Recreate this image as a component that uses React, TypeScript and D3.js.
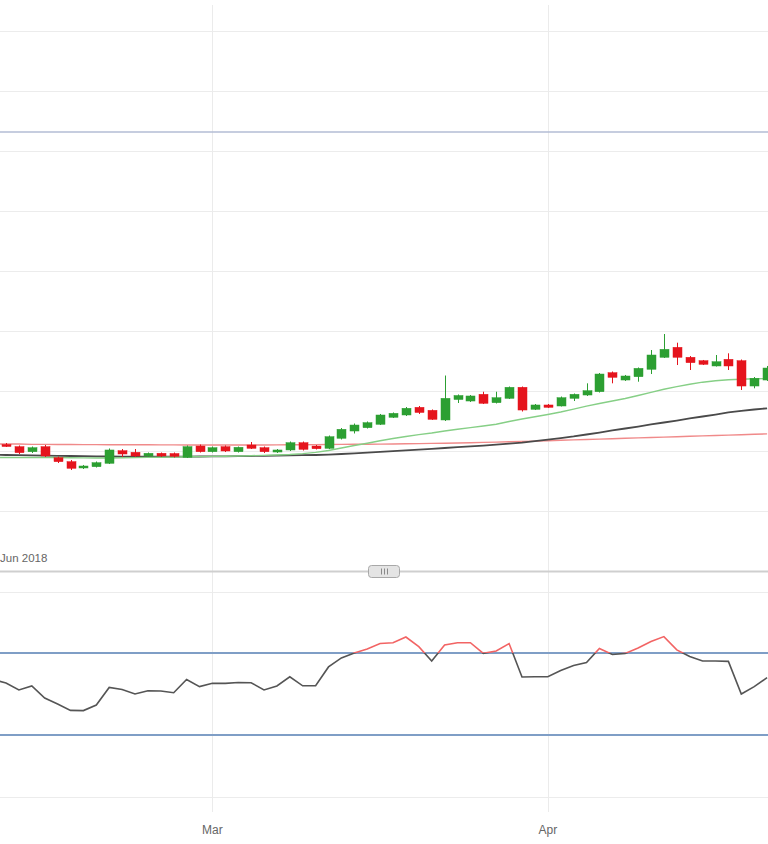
import React from 'react';
import * as d3 from 'd3';

const dates: string[] = [
  '2018-02-09',
  '2018-02-11', '2018-02-12', '2018-02-13', '2018-02-14', '2018-02-15', '2018-02-16',
  '2018-02-18', '2018-02-19', '2018-02-20', '2018-02-21', '2018-02-22', '2018-02-23',
  '2018-02-25', '2018-02-26', '2018-02-27', '2018-02-28',
  '2018-03-01', '2018-03-02',
  '2018-03-04', '2018-03-05', '2018-03-06', '2018-03-07', '2018-03-08', '2018-03-09',
  '2018-03-11', '2018-03-12', '2018-03-13', '2018-03-14', '2018-03-15', '2018-03-16',
  '2018-03-18', '2018-03-19', '2018-03-20', '2018-03-21', '2018-03-22', '2018-03-23',
  '2018-03-25', '2018-03-26', '2018-03-27', '2018-03-28', '2018-03-29', '2018-03-30',
  '2018-04-01', '2018-04-02', '2018-04-03', '2018-04-04', '2018-04-05', '2018-04-06',
  '2018-04-08', '2018-04-09', '2018-04-10', '2018-04-11', '2018-04-12', '2018-04-13',
  '2018-04-15', '2018-04-16', '2018-04-17', '2018-04-18', '2018-04-19', '2018-04-20',
];

const opens: number[] = [
  1.21080,
  1.21108, 1.21072, 1.20988, 1.21072, 1.20888, 1.20822, 1.20717, 1.20738, 1.20795, 1.21005,
  1.20978, 1.20917, 1.20962, 1.20958, 1.20895, 1.21083, 1.20988, 1.21072, 1.20988, 1.21100,
  1.21055, 1.20983, 1.21017, 1.21138, 1.21083, 1.21045, 1.21212, 1.21333, 1.21388, 1.21445,
  1.21562, 1.21600, 1.21728, 1.21678, 1.21517, 1.21858, 1.21833, 1.21945, 1.21805, 1.21878,
  1.22062, 1.21695, 1.21767, 1.21750, 1.21878, 1.21933, 1.21988, 1.22305, 1.22183, 1.22238,
  1.22362, 1.22562, 1.22728, 1.22562, 1.22505, 1.22417, 1.22528, 1.22505, 1.22083, 1.22183,
];

const highs: number[] = [
  1.21140,
  1.21133, 1.21092, 1.21075, 1.21100, 1.20908, 1.20850, 1.20767, 1.20825, 1.21042, 1.21033,
  1.21033, 1.20975, 1.20975, 1.20975, 1.21092, 1.21108, 1.21075, 1.21092, 1.21075, 1.21150,
  1.21075, 1.21033, 1.21158, 1.21158, 1.21100, 1.21258, 1.21383, 1.21458, 1.21492, 1.21617,
  1.21642, 1.21733, 1.21750, 1.21692, 1.22258, 1.21942, 1.21933, 1.21988, 1.21988, 1.22075,
  1.22075, 1.21783, 1.21783, 1.21908, 1.21958, 1.22128, 1.22300, 1.22325, 1.22267, 1.22392,
  1.22683, 1.22950, 1.22805, 1.22583, 1.22517, 1.22600, 1.22628, 1.22525, 1.22233, 1.22417,
];

const lows: number[] = [
  1.21060,
  1.21067, 1.20950, 1.20967, 1.20900, 1.20800, 1.20683, 1.20700, 1.20725, 1.20783, 1.20900,
  1.20900, 1.20900, 1.20900, 1.20892, 1.20883, 1.20975, 1.20975, 1.20983, 1.20975, 1.21033,
  1.20967, 1.20967, 1.21000, 1.21008, 1.21025, 1.21033, 1.21192, 1.21292, 1.21375, 1.21433,
  1.21550, 1.21583, 1.21617, 1.21517, 1.21500, 1.21800, 1.21817, 1.21783, 1.21792, 1.21867,
  1.21658, 1.21683, 1.21717, 1.21742, 1.21833, 1.21917, 1.21975, 1.22128, 1.22167, 1.22155,
  1.22283, 1.22550, 1.22433, 1.22350, 1.22433, 1.22408, 1.22350, 1.22017, 1.22045, 1.22167,
];

const closes: number[] = [
  1.21120,
  1.21075, 1.20972, 1.21055, 1.20917, 1.20822, 1.20712, 1.20750, 1.20805, 1.21017, 1.20950,
  1.20917, 1.20962, 1.20917, 1.20912, 1.21072, 1.20988, 1.21055, 1.21000, 1.21062, 1.21045,
  1.20988, 1.21017, 1.21138, 1.21028, 1.21038, 1.21238, 1.21362, 1.21433, 1.21472, 1.21600,
  1.21628, 1.21712, 1.21642, 1.21528, 1.21878, 1.21925, 1.21917, 1.21795, 1.21888, 1.22062,
  1.21683, 1.21767, 1.21728, 1.21888, 1.21945, 1.22005, 1.22283, 1.22228, 1.22250, 1.22378,
  1.22600, 1.22695, 1.22562, 1.22472, 1.22445, 1.22488, 1.22417, 1.22083, 1.22212, 1.22383,
];

const maFast: number[] = [
  1.20892,
  1.20892, 1.20892, 1.20892, 1.20892, 1.20892, 1.20888, 1.20885, 1.20883, 1.20883, 1.20887,
  1.20890, 1.20893, 1.20897, 1.20900, 1.20903, 1.20907, 1.20910, 1.20913, 1.20917, 1.20922,
  1.20927, 1.20933, 1.20942, 1.20957, 1.20977, 1.21008, 1.21050, 1.21092, 1.21130, 1.21170,
  1.21208, 1.21242, 1.21272, 1.21300, 1.21333, 1.21363, 1.21390, 1.21417, 1.21445, 1.21492,
  1.21533, 1.21570, 1.21608, 1.21650, 1.21697, 1.21747, 1.21792, 1.21833, 1.21875, 1.21925,
  1.21978, 1.22030, 1.22073, 1.22113, 1.22147, 1.22170, 1.22187, 1.22197, 1.22203, 1.22208,
];

const maMid: number[] = [
  1.20937,
  1.20933, 1.20930, 1.20927, 1.20923, 1.20920, 1.20917, 1.20913, 1.20910, 1.20908, 1.20907,
  1.20905, 1.20905, 1.20905, 1.20905, 1.20907, 1.20908, 1.20910, 1.20912, 1.20913, 1.20917,
  1.20920, 1.20923, 1.20927, 1.20930, 1.20933, 1.20940, 1.20950, 1.20962, 1.20973, 1.20985,
  1.20997, 1.21010, 1.21023, 1.21037, 1.21050, 1.21063, 1.21077, 1.21090, 1.21107, 1.21123,
  1.21140, 1.21165, 1.21190, 1.21215, 1.21242, 1.21275, 1.21308, 1.21342, 1.21375, 1.21408,
  1.21442, 1.21475, 1.21508, 1.21542, 1.21575, 1.21608, 1.21642, 1.21670, 1.21692, 1.21712,
];

const maSlow: number[] = [
  1.21117,
  1.21117, 1.21117, 1.21110, 1.21110, 1.21108, 1.21108, 1.21107, 1.21107, 1.21105, 1.21105,
  1.21103, 1.21103, 1.21102, 1.21102, 1.21100, 1.21100, 1.21100, 1.21100, 1.21100, 1.21100,
  1.21100, 1.21102, 1.21103, 1.21105, 1.21107, 1.21108, 1.21110, 1.21112, 1.21113, 1.21115,
  1.21117, 1.21120, 1.21123, 1.21127, 1.21130, 1.21133, 1.21138, 1.21143, 1.21148, 1.21153,
  1.21158, 1.21165, 1.21172, 1.21178, 1.21185, 1.21192, 1.21198, 1.21205, 1.21212, 1.21218,
  1.21225, 1.21232, 1.21238, 1.21245, 1.21252, 1.21258, 1.21265, 1.21272, 1.21278, 1.21285,
];

const rsi: number[] = [
  57.0,
  55.4, 52.0, 53.9, 48.0, 45.1, 42.0, 41.9, 44.6, 53.2, 52.2,
  50.0, 51.6, 51.5, 50.6, 57.1, 53.6, 55.2, 55.2, 55.6, 55.5,
  52.0, 53.9, 58.4, 54.0, 54.0, 63.2, 67.6, 70.0, 72.0, 74.6,
  75.0, 77.8, 73.1, 66.1, 73.9, 75.0, 75.0, 69.8, 71.0, 74.6,
  58.3, 58.4, 58.4, 61.5, 63.9, 65.4, 72.2, 69.3, 69.8, 72.4,
  75.6, 78.0, 71.5, 68.3, 66.1, 66.1, 65.9, 50.0, 53.6, 58.0,
];

const priceTicks: number[] = [1.20, 1.21, 1.22, 1.23, 1.24, 1.25, 1.26, 1.27, 1.28];
const priceLevel: number[] = [1.26317];
const rsiGrid: number[] = [0, 100];
const rsiBands: number[] = [30, 70];
const monthTickDates: string[] = ['2018-03-01', '2018-04-01'];
const monthTickLabels: string[] = ['Mar', 'Apr'];
const navigatorLabel = 'Jun 2018';

const W = 768;
const H = 844;
const UP = '#2c9f32';
const DOWN = '#e5141d';
const FONT = '"Liberation Sans", Arial, sans-serif';

export default function App() {
  const x = d3.scalePoint<string>().domain(dates).range([-6.9, 767.1]);
  const yP = d3.scaleLinear().domain([1.2, 1.28]).range([511, 31]);
  const yR = d3.scaleLinear().domain([0, 100]).range([796.5, 591.5]);

  const lineP = d3
    .line<number>()
    .x((_, i) => x(dates[i]) as number)
    .y((d) => yP(d));
  const lineR = d3
    .line<number>()
    .x((_, i) => x(dates[i]) as number)
    .y((d) => yR(d));

  const crisp = (v: number) => Math.round(v) + 0.5;
  const bodyW = 9;
  const rsiPath = lineR(rsi) || '';

  return (
    <div style={{ position: 'absolute', left: 0, top: 0, width: W, height: H, overflow: 'hidden' }}>
      <svg width={W} height={H} viewBox={`0 0 ${W} ${H}`} style={{ display: 'block', fontFamily: FONT }}>
        <defs>
          <clipPath id="rsiAbove">
            <rect x={0} y={0} width={W} height={yR(70)} />
          </clipPath>
          <clipPath id="rsiBelow">
            <rect x={0} y={yR(70)} width={W} height={H - yR(70)} />
          </clipPath>
        </defs>
        <rect x={0} y={0} width={W} height={H} fill="#ffffff" />

        {/* main pane horizontal grid */}
        {priceTicks.map((t) => (
          <line key={'pg' + t} x1={0} x2={W} y1={crisp(yP(t))} y2={crisp(yP(t))} stroke="#ececec" strokeWidth={1} />
        ))}
        {/* rsi pane horizontal grid */}
        {rsiGrid.map((t) => (
          <line key={'rg' + t} x1={0} x2={W} y1={crisp(yR(t))} y2={crisp(yR(t))} stroke="#ececec" strokeWidth={1} />
        ))}
        {/* vertical month grid */}
        {monthTickDates.map((d) => (
          <line key={'vg' + d} x1={crisp(x(d) as number)} x2={crisp(x(d) as number)} y1={5} y2={812} stroke="#ebebeb" strokeWidth={1} />
        ))}

        {/* price level line */}
        {priceLevel.map((p) => (
          <line key={'pl' + p} x1={0} x2={W} y1={yP(p)} y2={yP(p)} stroke="#b3bcd4" strokeWidth={1.6} />
        ))}

        {/* moving averages */}
        <path d={lineP(maSlow) || ''} fill="none" stroke="#f08a8a" strokeWidth={1.4} />
        <path d={lineP(maMid) || ''} fill="none" stroke="#4a4a4a" strokeWidth={1.8} />
        <path d={lineP(maFast) || ''} fill="none" stroke="#86cf86" strokeWidth={1.4} />

        {/* candles */}
        {dates.map((d, i) => {
          const cx = x(d) as number;
          const o = opens[i];
          const c = closes[i];
          const up = c >= o;
          const col = up ? UP : DOWN;
          const top = yP(Math.max(o, c));
          const bot = yP(Math.min(o, c));
          return (
            <g key={'c' + d}>
              <line x1={crisp(cx)} x2={crisp(cx)} y1={yP(highs[i])} y2={yP(lows[i])} stroke={col} strokeWidth={1} />
              <rect x={Math.round(cx) + 0.5 - bodyW / 2} y={top} width={bodyW} height={Math.max(1, bot - top)} fill={col} stroke={col} strokeWidth={0.5} />
            </g>
          );
        })}

        {/* navigator label and scrollbar */}
        <text x={0} y={562} fontSize={11.5} fill="#666666">
          {navigatorLabel}
        </text>
        <line x1={0} x2={W} y1={571.5} y2={571.5} stroke="#cfcfcf" strokeWidth={2} />
        <rect x={368.5} y={565.5} width={31} height={12} rx={3} fill="#e4e4e4" stroke="#a8a8a8" strokeWidth={1} />
        {[-3, 0, 3].map((dx) => (
          <line key={'rf' + dx} x1={384 + dx + 0.5} x2={384 + dx + 0.5} y1={568.5} y2={574.5} stroke="#8a8a8a" strokeWidth={1} />
        ))}

        {/* rsi bands */}
        {rsiBands.map((b) => (
          <line key={'rb' + b} x1={0} x2={W} y1={yR(b)} y2={yR(b)} stroke="#7f9ec6" strokeWidth={2} />
        ))}

        {/* rsi line with zones */}
        <path d={rsiPath} fill="none" stroke="#555555" strokeWidth={1.6} clipPath="url(#rsiBelow)" />
        <path d={rsiPath} fill="none" stroke="#f26464" strokeWidth={1.6} clipPath="url(#rsiAbove)" />

        {/* x axis labels */}
        {monthTickDates.map((d, i) => (
          <text key={'xl' + d} x={x(d) as number} y={834} fontSize={12} fill="#666666" textAnchor="middle">
            {monthTickLabels[i]}
          </text>
        ))}
      </svg>
    </div>
  );
}
